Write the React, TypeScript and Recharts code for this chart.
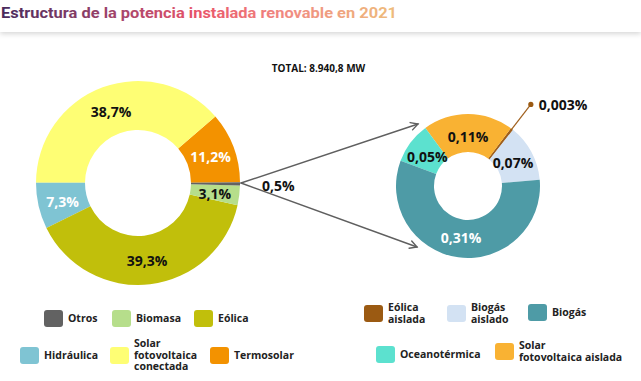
import React from "react";
import { PieChart, Pie, Cell } from "recharts";

// Main structure (% of total installed renewable capacity)
const mainNames = ["Termosolar", "Solar fotovoltaica conectada", "Hidráulica", "Eólica", "Biomasa", "Otros"];
const mainValues = [11.2, 38.7, 7.3, 39.3, 3.1, 0.5];
const mainLabels = ["11,2%", "38,7%", "7,3%", "39,3%", "3,1%", ""];

// Breakdown of "Otros" (0,5%)
const otherNames = ["Biogás aislado", "Eólica aislada", "Solar fotovoltaica aislada", "Oceanotérmica", "Biogás"];
const otherValues = [0.07, 0.003, 0.11, 0.05, 0.31];
const otherLabels = ["0,07%", "0,003%", "0,11%", "0,05%", "0,31%"];

const otrosLabel = "0,5%";
const totalLabel = "TOTAL: 8.940,8 MW";
const title = "Estructura de la potencia instalada renovable en 2021";

const COLORS: Record<string, string> = {
  Termosolar: "#F39200",
  "Solar fotovoltaica conectada": "#FEFE74",
  Hidráulica: "#7FC4D3",
  Eólica: "#C1BF0B",
  Biomasa: "#B6DE8B",
  Otros: "#626262",
  "Biogás aislado": "#D3E2F3",
  "Eólica aislada": "#9B5A12",
  "Solar fotovoltaica aislada": "#F9B233",
  Oceanotérmica: "#5CE1CF",
  Biogás: "#4E9BA6",
};

// label ink per slice
const INK: Record<string, string> = {
  Termosolar: "#fff",
  Hidráulica: "#fff",
  Biogás: "#fff",
};

const mainData = mainNames.map((name, i) => ({ name, value: mainValues[i], label: mainLabels[i] }));
const otherData = otherNames.map((name, i) => ({ name, value: otherValues[i], label: otherLabels[i] }));

const FONT = "'Open Sans', 'Noto Sans', sans-serif";
const RAD = Math.PI / 180;

function polar(cx: number, cy: number, r: number, angle: number) {
  return { x: cx + r * Math.cos(-angle * RAD), y: cy + r * Math.sin(-angle * RAD) };
}

function renderLabel(props: any) {
  const { cx, cy, midAngle, innerRadius, outerRadius, payload, index } = props;
  const name = payload?.name ?? props.name;
  const label = payload?.label ?? props.label;
  if (!label) return null;
  if (name === "Eólica aislada") {
    const a = polar(cx, cy, innerRadius + 1, midAngle);
    const b = polar(cx, cy, outerRadius + 31, midAngle);
    return (
      <g key={`l-${index}`}>
        <line x1={a.x} y1={a.y} x2={b.x} y2={b.y} stroke="#A0601E" strokeWidth={1.2} />
        <circle cx={b.x} cy={b.y} r={2.6} fill="#9B5A12" />
        <text x={b.x + 8} y={b.y} dominantBaseline="central" fontFamily={FONT} fontWeight={700} fontSize={14} fill="#111">
          {label}
        </text>
      </g>
    );
  }
  const p = polar(cx, cy, (innerRadius + outerRadius) / 2 - (outerRadius < 90 ? 2 : 0), midAngle);
  return (
    <text
      key={`l-${index}`}
      x={p.x}
      y={p.y + 1}
      textAnchor="middle"
      dominantBaseline="central"
      fontFamily={FONT}
      fontWeight={700}
      fontSize={14}
      fill={INK[name] ?? "#111"}
    >
      {label}
    </text>
  );
}

function Arrow({ x1, y1, x2, y2 }: { x1: number; y1: number; x2: number; y2: number }) {
  const ang = Math.atan2(y2 - y1, x2 - x1);
  const len = 8;
  const h1 = { x: x2 - len * Math.cos(ang - 0.5), y: y2 - len * Math.sin(ang - 0.5) };
  const h2 = { x: x2 - len * Math.cos(ang + 0.5), y: y2 - len * Math.sin(ang + 0.5) };
  return (
    <g stroke="#5f5f5f" strokeWidth={1.4} fill="none" strokeLinecap="round">
      <line x1={x1} y1={y1} x2={x2} y2={y2} />
      <polyline points={`${h1.x},${h1.y} ${x2},${y2} ${h2.x},${h2.y}`} />
    </g>
  );
}

type LegendSpot = { name: string; text: string[]; left: number; top: number };

const legendSpots: LegendSpot[] = [
  { name: "Otros", text: ["Otros"], left: 44, top: 310 },
  { name: "Biomasa", text: ["Biomasa"], left: 112, top: 310 },
  { name: "Eólica", text: ["Eólica"], left: 194, top: 310 },
  { name: "Hidráulica", text: ["Hidráulica"], left: 20, top: 347 },
  { name: "Solar fotovoltaica conectada", text: ["Solar", "fotovoltaica", "conectada"], left: 110, top: 347 },
  { name: "Termosolar", text: ["Termosolar"], left: 210, top: 347 },
  { name: "Eólica aislada", text: ["Eólica", "aislada"], left: 364, top: 305 },
  { name: "Biogás aislado", text: ["Biogás", "aislado"], left: 447, top: 305 },
  { name: "Biogás", text: ["Biogás"], left: 528, top: 304 },
  { name: "Oceanotérmica", text: ["Oceanotérmica"], left: 376, top: 346 },
  { name: "Solar fotovoltaica aislada", text: ["Solar", "fotovoltaica aislada"], left: 495, top: 343 },
];

const LINE_H = 11.5;

function LegendItem({ spot }: { spot: LegendSpot }) {
  const n = spot.text.length;
  const blockH = n * LINE_H;
  const sqH = 17;
  return (
    <div
      style={{
        position: "absolute",
        left: spot.left,
        top: spot.top - Math.max(0, (blockH - sqH) / 2),
        display: "flex",
        alignItems: "center",
        gap: 5,
        fontFamily: FONT,
        fontWeight: 700,
        fontSize: 10.5,
        lineHeight: `${LINE_H}px`,
        color: "#222",
      }}
    >
      <div style={{ width: 19, height: sqH, borderRadius: 3, background: COLORS[spot.name], flexShrink: 0 }} />
      <div style={{ whiteSpace: "nowrap" }}>
        {spot.text.map((t, i) => (
          <div key={i}>{t}</div>
        ))}
      </div>
    </div>
  );
}

export default function App() {
  return (
    <div style={{ position: "absolute", left: 0, top: 0, width: 641, height: 381, background: "#fff", overflow: "hidden" }}>
      <div
        style={{
          position: "absolute",
          left: 0,
          top: 0,
          width: 641,
          height: 32,
          background: "#fff",
          boxShadow: "0 2px 5px rgba(0,0,0,0.16)",
          zIndex: 1,
        }}
      >
        <svg width={641} height={32} style={{ display: "block" }}>
          <defs>
            <linearGradient id="tg" x1="0" y1="0" x2="397" y2="0" gradientUnits="userSpaceOnUse">
              <stop offset="0" stopColor="#472a5c" />
              <stop offset="0.3" stopColor="#a4456b" />
              <stop offset="0.5" stopColor="#e9546a" />
              <stop offset="0.72" stopColor="#f08a82" />
              <stop offset="1" stopColor="#eebd7c" />
            </linearGradient>
          </defs>
          <text
            x={1}
            y={17.5}
            fontFamily="Roboto, 'Noto Sans', sans-serif"
            fontWeight={700}
            fontSize={15.5}
            fill="url(#tg)"
            textLength={396}
            lengthAdjust="spacingAndGlyphs"
          >
            {title}
          </text>
        </svg>
      </div>

      <div style={{ position: "absolute", left: 0, top: 0 }}>
        <PieChart width={641} height={381} margin={{ top: 0, right: 0, bottom: 0, left: 0 }}>
          <Pie
            data={mainData}
            dataKey="value"
            nameKey="name"
            cx={138}
            cy={183}
            innerRadius={53}
            outerRadius={102}
            startAngle={0.4}
            endAngle={360.4}
            stroke="none"
            label={renderLabel}
            labelLine={false}
            isAnimationActive={false}
          >
            {mainData.map((d) => (
              <Cell key={d.name} fill={COLORS[d.name]} />
            ))}
          </Pie>
          <Pie
            data={otherData}
            dataKey="value"
            nameKey="name"
            cx={468}
            cy={186}
            innerRadius={34}
            outerRadius={72}
            startAngle={5}
            endAngle={365}
            stroke="none"
            label={renderLabel}
            labelLine={false}
            isAnimationActive={false}
          >
            {otherData.map((d) => (
              <Cell key={d.name} fill={COLORS[d.name]} />
            ))}
          </Pie>
        </PieChart>
      </div>

      <svg width={641} height={381} style={{ position: "absolute", left: 0, top: 0, pointerEvents: "none" }}>
        <Arrow x1={241} y1={183} x2={418} y2={124} />
        <Arrow x1={241} y1={183} x2={417} y2={247} />
        <text x={262} y={185} dominantBaseline="central" fontFamily={FONT} fontWeight={700} fontSize={14} fill="#111">
          {otrosLabel}
        </text>
        <text x={318.5} y={68} textAnchor="middle" dominantBaseline="central" fontFamily={FONT} fontWeight={700} fontSize={10} fill="#111">
          {totalLabel}
        </text>
      </svg>

      {legendSpots.map((s) => (
        <LegendItem key={s.name} spot={s} />
      ))}
    </div>
  );
}
